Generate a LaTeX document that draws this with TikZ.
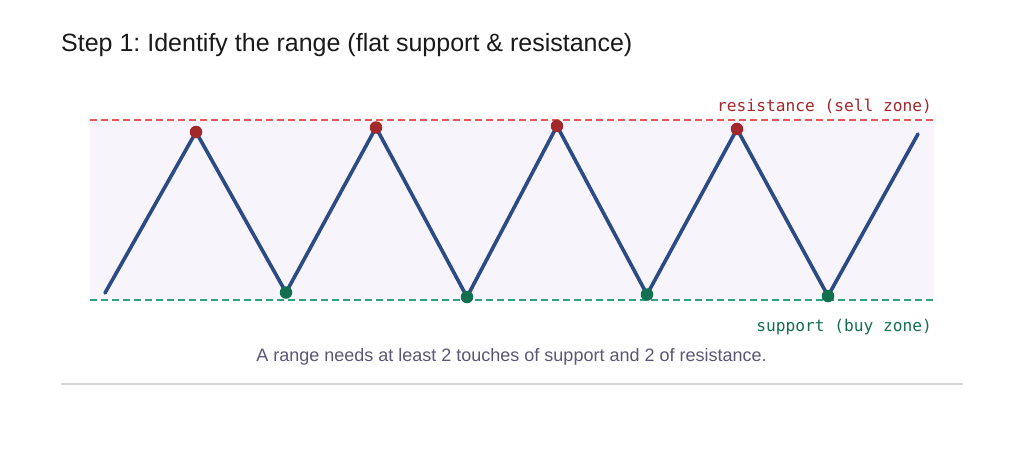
\documentclass[tikz,border=0pt]{standalone}
\usepackage{fontspec}
\setmainfont{Liberation Sans}
\newfontfamily\monofont{DejaVu Sans Mono}
\frenchspacing
\definecolor{bandbg}{HTML}{F7F4FB}
\definecolor{resline}{HTML}{E8575A}
\definecolor{supline}{HTML}{2FA37C}
\definecolor{reslabel}{HTML}{A3262B}
\definecolor{suplabel}{HTML}{136F4F}
\definecolor{priceline}{HTML}{2C4B85}
\definecolor{peakdot}{HTML}{A3282C}
\definecolor{troughdot}{HTML}{11704F}
\definecolor{captioncol}{HTML}{5B5675}
\definecolor{rulecol}{HTML}{D4D4D4}
\definecolor{titlecol}{HTML}{1A1A1A}
\tikzset{
  zoneline/.style={line width=2.3pt, dash pattern=on 7pt off 4pt},
  zonelabel/.style={font=\monofont\fontsize{16.2}{18}\selectfont, inner sep=0pt, anchor=base east},
  price/.style={priceline, line width=3.6pt, line cap=round, line join=round},
  dotpeak/.style={circle, fill=peakdot, inner sep=0pt, minimum size=12.5pt},
  dottrough/.style={circle, fill=troughdot, inner sep=0pt, minimum size=12.5pt},
}
\begin{document}
\begin{tikzpicture}[x=1pt,y=-1pt]
\useasboundingbox (0,0) rectangle (1024,452);
\fill[white] (0,0) rectangle (1024,452);
% title
\node[anchor=base west, inner sep=0pt, text=titlecol, font=\fontsize{25}{30}\selectfont] (title) at (61,52) {Step 1: Identify the range (flat support \& resistance)};
% band
\fill[bandbg] (90,120) rectangle (934,300);
\coordinate (rl) at (90,120); \coordinate (rr) at (934,120);
\coordinate (sl) at (90,300); \coordinate (sr) at (934,300);
\draw[zoneline, resline] (rl) -- (rr);
\draw[zoneline, supline] (sl) -- (sr);
\node[zonelabel, text=reslabel] (reslab) at (932,111.5) {resistance (sell zone)};
\node[zonelabel, text=suplabel] (suplab) at (932,331.5) {support (buy zone)};
% price path
\coordinate (p0) at (105,293);
\coordinate (p1) at (196,132);
\coordinate (p2) at (286,292.5);
\coordinate (p3) at (376,127.5);
\coordinate (p4) at (467,297);
\coordinate (p5) at (557,126);
\coordinate (p6) at (647,294.5);
\coordinate (p7) at (737,129);
\coordinate (p8) at (828,296);
\coordinate (p9) at (918,134);
\draw[price] (p0) -- (p1) -- (p2) -- (p3) -- (p4) -- (p5) -- (p6) -- (p7) -- (p8) -- (p9);
\foreach \i in {1,3,5,7} \node[dotpeak] (d\i) at (p\i) {};
\foreach \i in {2,4,6,8} \node[dottrough] (d\i) at (p\i) {};
% caption
\node[anchor=base, inner sep=0pt, text=captioncol, font=\fontsize{18}{21}\selectfont] (caption) at (511.5,361.5) {A range needs at least 2 touches of support and 2 of resistance.};
% rule
\coordinate (hl) at (61,384); \coordinate (hr) at (963,384);
\draw[rulecol, line width=1.5pt] (hl) -- (hr);
\end{tikzpicture}
\end{document}
